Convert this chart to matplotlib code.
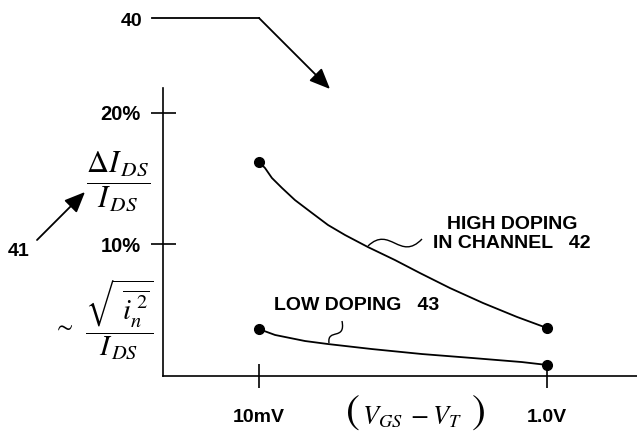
import matplotlib
matplotlib.use("Agg")
import matplotlib.pyplot as plt
from matplotlib.path import Path
from matplotlib.patches import PathPatch, FancyArrowPatch

plt.rcParams['font.family'] = ['Liberation Sans', 'DejaVu Sans']
plt.rcParams['mathtext.fontset'] = 'stix'

# data (x: 0 = 10mV, 1 = 1.0V ; y in %)
high_x = [0.0, 0.021, 0.045, 0.080, 0.125, 0.184, 0.240, 0.299, 0.378,
          0.472, 0.559, 0.663, 0.778, 0.896, 1.0]
high_y = [16.27, 15.82, 15.06, 14.30, 13.38, 12.40, 11.48, 10.72, 9.81,
          8.82, 7.83, 6.69, 5.55, 4.49, 3.65]
low_x = [0.0, 0.056, 0.160, 0.240, 0.392, 0.566, 0.740, 0.913, 1.0]
low_y = [3.57, 3.12, 2.66, 2.43, 2.05, 1.67, 1.37, 1.06, 0.84]
x_ticks = [0, 1]
x_ticklabels = ["10mV", "1.0V"]
y_ticks = [10, 20]
y_ticklabels = ["10%", "20%"]

W, H = 637, 433
fig = plt.figure(figsize=(W / 100, H / 100), dpi=100)
ax = fig.add_axes([163 / W, (H - 376) / H, (W - 163) / W, (376 - 88) / H])

ax.plot(high_x, high_y, color="black", lw=1.3)
ax.plot(low_x, low_y, color="black", lw=1.3)
ax.plot([high_x[0], high_x[-1]], [high_y[0], high_y[-1]], "o", color="black", ms=7)
ax.plot([low_x[0], low_x[-1]], [low_y[0], low_y[-1]], "o", color="black", ms=7)

ax.set_xlim(-0.333, 1.3125)
ax.set_ylim(0, 21.9)
for s in ["top", "right"]:
    ax.spines[s].set_visible(False)
for s in ["left", "bottom"]:
    ax.spines[s].set_linewidth(1.2)

ax.set_xticks(x_ticks)
ax.set_xticklabels(x_ticklabels, fontsize=14, fontweight="bold")
ax.set_yticks(y_ticks)
ax.set_yticklabels(y_ticklabels, fontsize=14.5, fontweight="bold")
ax.tick_params(axis="x", direction="inout", length=17, width=1.2, pad=15)
ax.tick_params(axis="y", direction="inout", length=18, width=1.2, pad=7)


def px(x, y):
    return (x / W, 1 - y / H)


# axis titles
fig.text(*px(118, 181), r"$\dfrac{\Delta I_{\,DS}}{I_{\,DS}}$", fontsize=22,
         ha="center", va="center")
fig.text(*px(63, 327), r"$\sim$", fontsize=17, ha="center", va="center")
fig.text(*px(119, 320), r"$\dfrac{\sqrt{\ \overline{i_n^{\,2}}}}{I_{\,DS}}$", fontsize=21,
         ha="center", va="center")
fig.text(*px(353, 414), "(", fontsize=30, family="STIXGeneral", ha="center", va="center")
fig.text(*px(479, 414), ")", fontsize=30, family="STIXGeneral", ha="center", va="center")
fig.text(*px(412, 417), r"$V_{GS}\;-V_{T}$", fontsize=19, ha="center", va="center")

# curve labels
fig.text(*px(512, 234), "HIGH DOPING\nIN CHANNEL   42", fontsize=14, fontweight="bold",
         ha="center", va="center", multialignment="center", linespacing=1.2)
fig.text(*px(357, 306), "LOW DOPING   43", fontsize=14, fontweight="bold",
         ha="center", va="center")

# leader squiggles
for pts in ([(368, 246), (390, 225), (400, 262), (422, 239)],
            [(329, 343), (327, 328), (346, 341), (342, 321)]):
    verts = [px(*p) for p in pts]
    path = Path(verts, [Path.MOVETO, Path.CURVE4, Path.CURVE4, Path.CURVE4])
    fig.add_artist(PathPatch(path, fill=False, lw=1.0, color="black",
                             transform=fig.transFigure))

# reference numerals
fig.text(*px(132, 21), "40", fontsize=14, fontweight="bold", ha="center", va="center")
fig.add_artist(plt.Line2D([152 / W, 259 / W], [1 - 18 / H, 1 - 18 / H],
                          color="black", lw=1.3, transform=fig.transFigure))
arrow = dict(arrowstyle="-|>,head_length=0.7,head_width=0.3", color="black",
             lw=1.3, shrinkA=0, shrinkB=0, mutation_scale=18)
fig.add_artist(FancyArrowPatch(px(259, 18), px(330, 89),
                               transform=fig.transFigure, **arrow))
fig.text(*px(19, 251), "41", fontsize=14, fontweight="bold", ha="center", va="center")
fig.add_artist(FancyArrowPatch(px(37, 240), px(85, 192),
                               transform=fig.transFigure, **arrow))

fig.savefig("out.png", dpi=100)
